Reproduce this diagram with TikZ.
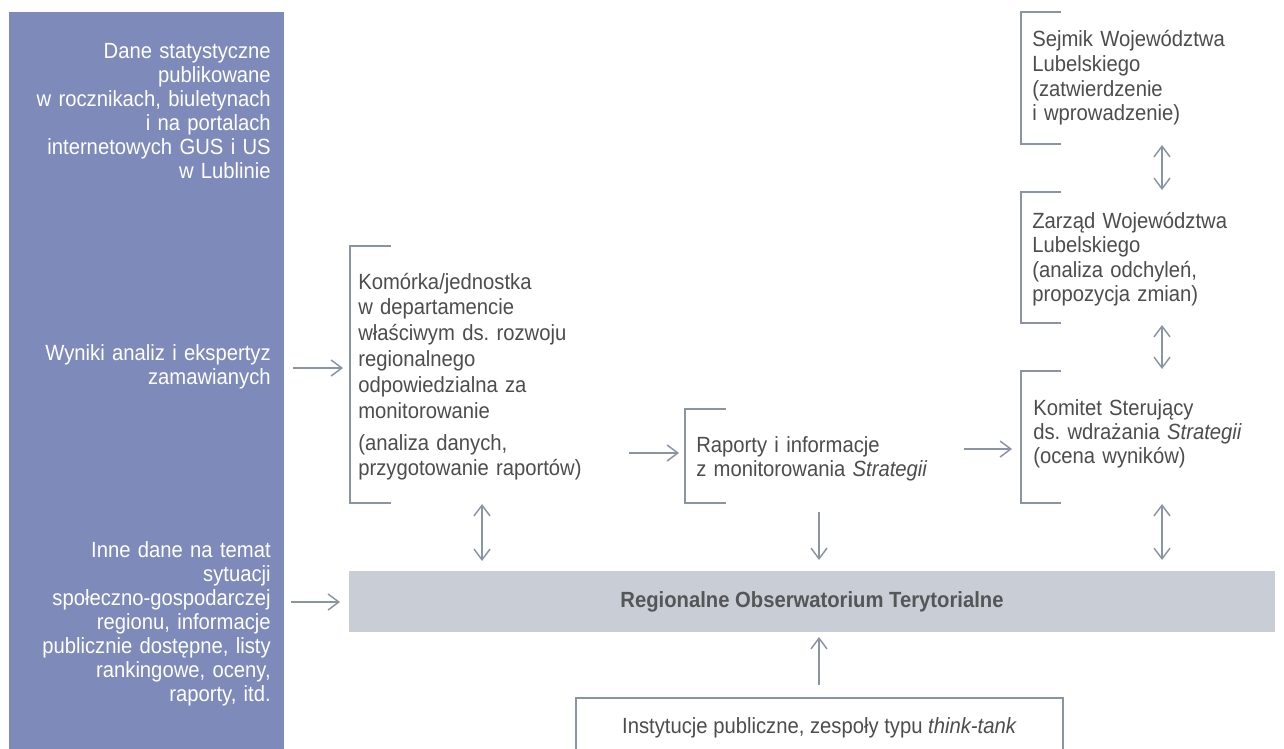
\documentclass[tikz,border=0pt]{standalone}
\usepackage{fontspec}
\setmainfont{Liberation Sans}[FakeStretch=0.92]
\usetikzlibrary{arrows.meta}
\frenchspacing
\definecolor{panel}{HTML}{7E8BBA}
\definecolor{barfill}{HTML}{C9CDD6}
\definecolor{lncol}{HTML}{8B94A5}
\definecolor{tgray}{HTML}{4D4D4F}
\definecolor{tbold}{HTML}{555658}
\begin{document}
\begin{tikzpicture}[x=0.75pt,y=-0.75pt,
  ltxt/.style={anchor=base east,text width=230pt,align=right,inner sep=0pt,text=white,font=\fontsize{16.5}{18}\selectfont},
  btxt/.style={anchor=base west,text width=220pt,align=left,inner sep=0pt,text=tgray,font=\fontsize{16.5}{18.4}\selectfont},
  brk/.style={draw=lncol,line width=1.5pt},
  arr/.style={draw=lncol,line width=1.1pt,-{Straight Barb[length=8pt,width=12pt]}},
  darr/.style={draw=lncol,line width=1.1pt,{Straight Barb[length=8pt,width=12pt]}-{Straight Barb[length=8pt,width=12pt]}}]
\useasboundingbox (0,0) rectangle (1284,749);
\fill[white] (0,0) rectangle (1284,749);
% left panel
\fill[panel] (9,12) rectangle (284,749);
\node[ltxt] (dane) at (271,59) {Dane statystyczne\\publikowane\\w rocznikach, biuletynach\\i na portalach\\internetowych GUS i US\\w Lublinie};
\node[ltxt] (wyniki) at (271,360) {Wyniki analiz i ekspertyz\\zamawianych};
\node[ltxt] (inne) at (271,557) {Inne dane na temat\\sytuacji\\społeczno-gospodarczej\\regionu, informacje\\publicznie dostępne, listy\\rankingowe, oceny,\\raporty, itd.};
% bracket texts
\node[btxt,font=\fontsize{16.5}{19.35}\selectfont] (komorka) at (358,289) {Komórka/jednostka\\w departamencie\\właściwym ds. rozwoju\\regionalnego\\odpowiedzialna za\\monitorowanie\\[4.7pt](analiza danych,\\przygotowanie raportów)};
\node[btxt] (raporty) at (696,452) {Raporty i informacje\\z monitorowania \textit{Strategii}};
\node[btxt,font=\fontsize{16.5}{18}\selectfont] (komitet) at (1033,415) {Komitet Sterujący\\ds. wdrażania \textit{Strategii}\\(ocena wyników)};
\node[btxt] (sejmik) at (1032,47) {Sejmik Województwa\\Lubelskiego\\(zatwierdzenie\\i wprowadzenie)};
\node[btxt] (zarzad) at (1032,228) {Zarząd Województwa\\Lubelskiego\\(analiza odchyleń,\\propozycja zmian)};
% brackets
\draw[brk] (391,246) -- (350,246) -- (350,503) -- (391,503);
\draw[brk] (726,409) -- (685,409) -- (685,503) -- (726,503);
\draw[brk] (1061,12) -- (1021,12) -- (1021,144) -- (1061,144);
\draw[brk] (1061,192) -- (1021,192) -- (1021,323) -- (1061,323);
\draw[brk] (1061,371) -- (1021,371) -- (1021,503) -- (1061,503);
% bar
\node[fill=barfill,minimum width=694.5pt,minimum height=45.75pt,inner sep=0pt,text=tbold,font=\bfseries\fontsize{16.5}{18}\selectfont] (rot) at (812,601.5) {Regionalne Obserwatorium Terytorialne};
% think tank box
\draw[brk] (576,749) -- (576,698) -- (1063,698) -- (1063,749);
\node[anchor=base,inner sep=0pt,text=tgray,font=\fontsize{16.5}{18}\selectfont] (think) at (819.5,733) {Instytucje publiczne, zespoły typu \textit{think-tank}};
% connector end points
\coordinate (a1s) at (293,368); \coordinate (a1e) at (343,368);
\coordinate (a2s) at (291,602); \coordinate (a2e) at (340,602);
\coordinate (a3s) at (482,504); \coordinate (a3e) at (482,561);
\coordinate (a4s) at (629,453); \coordinate (a4e) at (679,453);
\coordinate (a5s) at (964,449); \coordinate (a5e) at (1012,449);
\coordinate (a6s) at (819,512); \coordinate (a6e) at (819,560);
\coordinate (a7s) at (1162,504); \coordinate (a7e) at (1162,560);
\coordinate (a8s) at (1162,145); \coordinate (a8e) at (1162,190);
\coordinate (a9s) at (1162,325); \coordinate (a9e) at (1162,369);
\coordinate (a10s) at (819,685); \coordinate (a10e) at (819,637);
\draw[arr] (a1s) -- (a1e);
\draw[arr] (a2s) -- (a2e);
\draw[darr] (a3s) -- (a3e);
\draw[arr] (a4s) -- (a4e);
\draw[arr] (a5s) -- (a5e);
\draw[arr] (a6s) -- (a6e);
\draw[darr] (a7s) -- (a7e);
\draw[darr] (a8s) -- (a8e);
\draw[darr] (a9s) -- (a9e);
\draw[arr] (a10s) -- (a10e);
\end{tikzpicture}
\end{document}
